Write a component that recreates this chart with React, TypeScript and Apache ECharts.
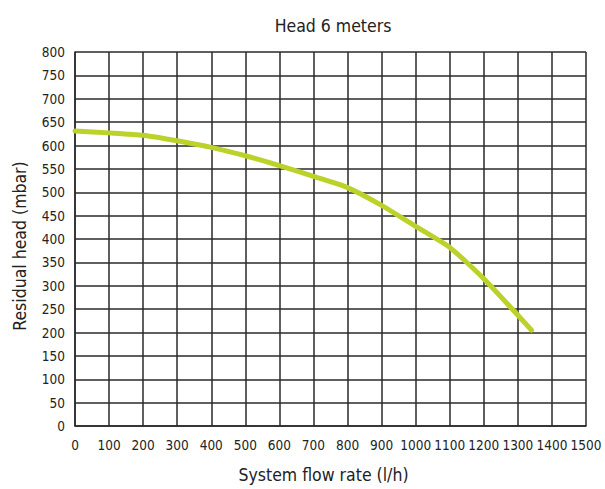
import React, { useEffect, useRef } from "react";
import * as echarts from "echarts";

const flowRates = [0, 100, 200, 300, 400, 500, 600, 700, 800, 900, 1000, 1100, 1200, 1340];
const residualHead = [631, 627, 622, 610, 596, 578, 557, 534, 510, 472, 427, 382, 315, 205];

const FONT = "'Liberation Sans Narrow', 'DejaVu Sans Condensed', 'Roboto Condensed', 'Liberation Sans', sans-serif";
const TEXT = "#222";

export default function App() {
  const ref = useRef<HTMLDivElement>(null);
  useEffect(() => {
    if (!ref.current) return;
    const chart = echarts.init(ref.current, null, { renderer: "svg" });
    const data = flowRates.map((x, i) => [x, residualHead[i]]);
    chart.setOption({
      animation: false,
      backgroundColor: "#ffffff",
      title: {
        text: "Head 6 meters",
        left: 328,
        textAlign: "center",
        top: 12,
        textStyle: { fontFamily: FONT, fontSize: 17.5, fontWeight: "normal", color: TEXT },
      },
      grid: { left: 75, right: 19, top: 52, bottom: 58, containLabel: false },
      xAxis: {
        type: "value",
        min: 0,
        max: 1500,
        interval: 100,
        name: "System flow rate (l/h)",
        nameLocation: "middle",
        nameGap: 40,
        nameTextStyle: { fontFamily: FONT, fontSize: 17.5, color: TEXT, padding: [0, 14, 0, 0] },
        axisLine: { show: true, lineStyle: { color: "#2a2a2a", width: 1.5 } },
        axisTick: { show: false },
        axisLabel: {
          fontFamily: FONT,
          fontSize: 13.5,
          color: TEXT,
          margin: 12,
          showMaxLabel: true,
          showMinLabel: true,
          hideOverlap: false,
          formatter: (v: number) => String(v),
        },
        splitLine: { show: true, lineStyle: { color: "#2a2a2a", width: 1.5 } },
      },
      yAxis: {
        type: "value",
        min: 0,
        max: 800,
        interval: 50,
        name: "Residual head (mbar)",
        nameLocation: "middle",
        nameGap: 46,
        nameTextStyle: { fontFamily: FONT, fontSize: 17.5, color: TEXT, padding: [0, 14, 0, 0] },
        axisLine: { show: true, lineStyle: { color: "#2a2a2a", width: 1.5 } },
        axisTick: { show: false },
        axisLabel: {
          fontFamily: FONT,
          fontSize: 13.5,
          color: TEXT,
          margin: 10,
          formatter: (v: number) => String(v),
        },
        splitLine: { show: true, lineStyle: { color: "#2a2a2a", width: 1.5 } },
      },
      series: [
        {
          type: "line",
          data,
          smooth: 0.2,
          symbol: "none",
          lineStyle: { color: "#bdd12b", width: 5, cap: "round", join: "round" },
        },
      ],
    });
    return () => chart.dispose();
  }, []);
  return (
    <div
      ref={ref}
      style={{ position: "fixed", left: 0, top: 0, width: 605, height: 489, overflow: "visible" }}
    />
  );
}
